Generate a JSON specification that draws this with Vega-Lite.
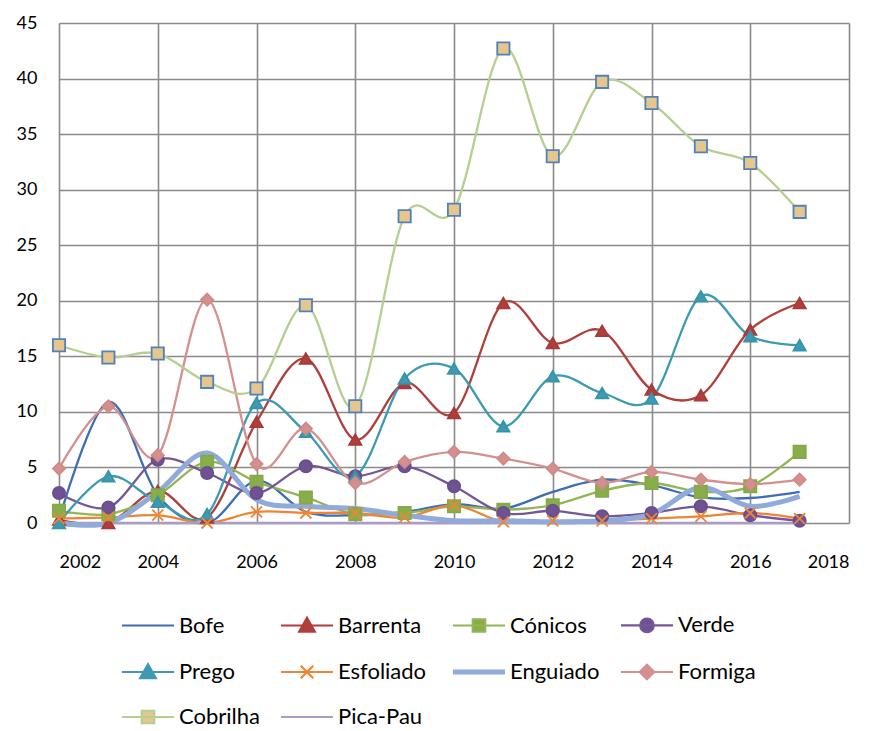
{
  "$schema": "https://vega.github.io/schema/vega-lite/v6.json",
  "width": 790,
  "height": 500,
  "padding": {"left": 16, "top": 14, "right": 5, "bottom": 0},
  "config": {
    "font": "Lato",
    "view": {"stroke": null},
    "axis": {"labelFont": "Lato", "labelFontSize": 18, "labelColor": "#000000", "gridColor": "#8a8a8a", "gridWidth": 1.6, "gridOpacity": 1, "domain": false, "ticks": false, "title": null},
    "legend": {
      "orient": "none", "direction": "horizontal", "legendX": 78, "legendY": 591, "columns": 4, "title": null,
      "labelFont": "Lato", "labelFontSize": 22, "labelColor": "#000000",
      "symbolSize": 2704, "symbolType": "M-1,0L1,0",
      "rowPadding": 22, "columnPadding": 16, "labelOffset": 20
    }
  },
  "data": {"values": [
    {"year": 2002, "Bofe": 0.3, "Barrenta": 0.3, "Cónicos": 1.1, "Verde": 2.7, "Prego": 0.0, "Esfoliado": 0.4, "Enguiado": 0.0, "Formiga": 4.9, "Cobrilha": 16.0, "Pica-Pau": 0.0},
    {"year": 2003, "Bofe": 10.9, "Barrenta": 0.0, "Cónicos": 0.8, "Verde": 1.4, "Prego": 4.2, "Esfoliado": 0.5, "Enguiado": 0.0, "Formiga": 10.5, "Cobrilha": 14.9, "Pica-Pau": 0.0},
    {"year": 2004, "Bofe": 2.5, "Barrenta": 2.9, "Cónicos": 2.5, "Verde": 5.7, "Prego": 1.9, "Esfoliado": 0.7, "Enguiado": 2.8, "Formiga": 6.1, "Cobrilha": 15.25, "Pica-Pau": 0.0},
    {"year": 2005, "Bofe": 0.0, "Barrenta": 0.5, "Cónicos": 5.5, "Verde": 4.5, "Prego": 0.8, "Esfoliado": 0.0, "Enguiado": 6.3, "Formiga": 20.1, "Cobrilha": 12.7, "Pica-Pau": 0.0},
    {"year": 2006, "Bofe": 3.8, "Barrenta": 9.1, "Cónicos": 3.7, "Verde": 2.7, "Prego": 10.8, "Esfoliado": 1.0, "Enguiado": 2.1, "Formiga": 5.3, "Cobrilha": 12.1, "Pica-Pau": 0.0},
    {"year": 2007, "Bofe": 1.0, "Barrenta": 14.8, "Cónicos": 2.3, "Verde": 5.1, "Prego": 8.2, "Esfoliado": 0.9, "Enguiado": 1.5, "Formiga": 8.5, "Cobrilha": 19.6, "Pica-Pau": 0.0},
    {"year": 2008, "Bofe": 0.7, "Barrenta": 7.5, "Cónicos": 0.8, "Verde": 4.2, "Prego": 4.2, "Esfoliado": 0.9, "Enguiado": 1.3, "Formiga": 3.6, "Cobrilha": 10.5, "Pica-Pau": 0.0},
    {"year": 2009, "Bofe": 1.0, "Barrenta": 12.6, "Cónicos": 0.9, "Verde": 5.1, "Prego": 13.0, "Esfoliado": 0.5, "Enguiado": 0.7, "Formiga": 5.5, "Cobrilha": 27.6, "Pica-Pau": 0.0},
    {"year": 2010, "Bofe": 1.7, "Barrenta": 9.9, "Cónicos": 1.5, "Verde": 3.3, "Prego": 13.9, "Esfoliado": 1.6, "Enguiado": 0.2, "Formiga": 6.4, "Cobrilha": 28.2, "Pica-Pau": 0.0},
    {"year": 2011, "Bofe": 1.3, "Barrenta": 19.8, "Cónicos": 1.2, "Verde": 0.9, "Prego": 8.7, "Esfoliado": 0.1, "Enguiado": 0.2, "Formiga": 5.8, "Cobrilha": 42.7, "Pica-Pau": 0.0},
    {"year": 2012, "Bofe": 2.8, "Barrenta": 16.2, "Cónicos": 1.6, "Verde": 1.1, "Prego": 13.2, "Esfoliado": 0.2, "Enguiado": 0.1, "Formiga": 4.9, "Cobrilha": 33.0, "Pica-Pau": 0.0},
    {"year": 2013, "Bofe": 3.9, "Barrenta": 17.3, "Cónicos": 2.9, "Verde": 0.6, "Prego": 11.7, "Esfoliado": 0.2, "Enguiado": 0.2, "Formiga": 3.6, "Cobrilha": 39.7, "Pica-Pau": 0.0},
    {"year": 2014, "Bofe": 3.4, "Barrenta": 12.0, "Cónicos": 3.6, "Verde": 0.9, "Prego": 11.2, "Esfoliado": 0.4, "Enguiado": 0.8, "Formiga": 4.6, "Cobrilha": 37.8, "Pica-Pau": 0.0},
    {"year": 2015, "Bofe": 2.3, "Barrenta": 11.5, "Cónicos": 2.8, "Verde": 1.5, "Prego": 20.4, "Esfoliado": 0.6, "Enguiado": 3.2, "Formiga": 3.9, "Cobrilha": 33.9, "Pica-Pau": 0.0},
    {"year": 2016, "Bofe": 2.25, "Barrenta": 17.4, "Cónicos": 3.3, "Verde": 0.7, "Prego": 16.8, "Esfoliado": 0.9, "Enguiado": 1.5, "Formiga": 3.5, "Cobrilha": 32.4, "Pica-Pau": 0.0},
    {"year": 2017, "Bofe": 2.8, "Barrenta": 19.8, "Cónicos": 6.4, "Verde": 0.2, "Prego": 16.0, "Esfoliado": 0.4, "Enguiado": 2.4, "Formiga": 3.9, "Cobrilha": 28.0, "Pica-Pau": 0.0}
  ]},
  "transform": [
    {"fold": ["Bofe", "Barrenta", "Cónicos", "Verde", "Prego", "Esfoliado", "Enguiado", "Formiga", "Cobrilha", "Pica-Pau"], "as": ["series", "value"]}
  ],
  "encoding": {
    "x": {"field": "year", "type": "quantitative", "scale": {"domain": [2002, 2018], "nice": false, "zero": false},
          "axis": {"values": [2002, 2004, 2006, 2008, 2010, 2012, 2014, 2016, 2018], "format": "d", "labelPadding": 30}},
    "y": {"field": "value", "type": "quantitative", "scale": {"domain": [0, 45], "nice": false},
          "axis": {"values": [0, 5, 10, 15, 20, 25, 30, 35, 40, 45], "labelPadding": 22}},
    "color": {"field": "series", "type": "nominal",
      "scale": {"domain": ["Bofe", "Barrenta", "Cónicos", "Verde", "Prego", "Esfoliado", "Enguiado", "Formiga", "Cobrilha", "Pica-Pau"],
                "range": ["#3d6db3", "#b03f3c", "#93b556", "#745896", "#3c9ab2", "#ee8533", "#8faadb", "#d4908e", "#b5cf91", "#ab9cc5"]},
      "legend": {
        "encode": {"symbols": {"update": {
          "shape": {"signal": "(datum.value === 'Barrenta' || datum.value === 'Prego') ? 'M-1,0L1,0M0,-0.3L0.3,0.24L-0.3,0.24Z' : (datum.value === 'Cónicos' || datum.value === 'Cobrilha') ? 'M-1,0L1,0M-0.24,-0.24L0.24,-0.24L0.24,0.24L-0.24,0.24Z' : datum.value === 'Verde' ? 'M-1,0L1,0M-0.26,0A0.26,0.26 0 1,0 0.26,0A0.26,0.26 0 1,0 -0.26,0Z' : datum.value === 'Formiga' ? 'M-1,0L1,0M0,-0.28L0.28,0L0,0.28L-0.28,0Z' : datum.value === 'Esfoliado' ? 'M-1,0L1,0M-0.24,-0.24L0.24,0.24M-0.24,0.24L0.24,-0.24' : 'M-1,0L1,0'"},
          "fill": {"signal": "datum.value === 'Barrenta' ? '#b03f3c' : datum.value === 'Prego' ? '#3c9ab2' : datum.value === 'Cónicos' ? '#8aad4c' : datum.value === 'Verde' ? '#6f5292' : datum.value === 'Formiga' ? '#d4908e' : datum.value === 'Cobrilha' ? '#e6c68c' : 'transparent'"},
          "strokeWidth": {"signal": "datum.value === 'Enguiado' ? 5 : 2.2"}
        }}}
      }
    }
  },
  "layer": [
    {
      "transform": [{"filter": "datum.series !== 'Enguiado'"}],
      "mark": {"type": "line", "interpolate": "cardinal", "strokeWidth": 2.3}
    },
    {
      "transform": [{"filter": "datum.series === 'Enguiado'"}],
      "mark": {"type": "line", "interpolate": "cardinal", "strokeWidth": 5}
    },
    {
      "transform": [{"filter": {"field": "series", "oneOf": ["Barrenta", "Cónicos", "Verde", "Prego", "Esfoliado", "Formiga", "Cobrilha"]}}],
      "mark": {"type": "point", "filled": true, "size": 150, "opacity": 1, "strokeWidth": 1.8},
      "encoding": {
        "color": null,
        "shape": {"field": "series", "type": "nominal",
          "scale": {"domain": ["Barrenta", "Cónicos", "Verde", "Prego", "Esfoliado", "Formiga", "Cobrilha"],
                    "range": ["triangle-up", "square", "circle", "triangle-up", "M-0.9,-0.9L0.9,0.9M-0.9,0.9L0.9,-0.9", "diamond", "square"]},
          "legend": null},
        "fill": {"field": "series", "type": "nominal",
          "scale": {"domain": ["Barrenta", "Cónicos", "Verde", "Prego", "Esfoliado", "Formiga", "Cobrilha"],
                    "range": ["#b03f3c", "#8aad4c", "#6f5292", "#3c9ab2", "transparent", "#d4908e", "#e6c68c"]},
          "legend": null},
        "stroke": {"field": "series", "type": "nominal",
          "scale": {"domain": ["Barrenta", "Cónicos", "Verde", "Prego", "Esfoliado", "Formiga", "Cobrilha"],
                    "range": ["#a63a37", "#86a948", "#6a4e8c", "#3893aa", "#ee8533", "#d08a88", "#4f81bd"]},
          "legend": null}
      }
    }
  ]
}
